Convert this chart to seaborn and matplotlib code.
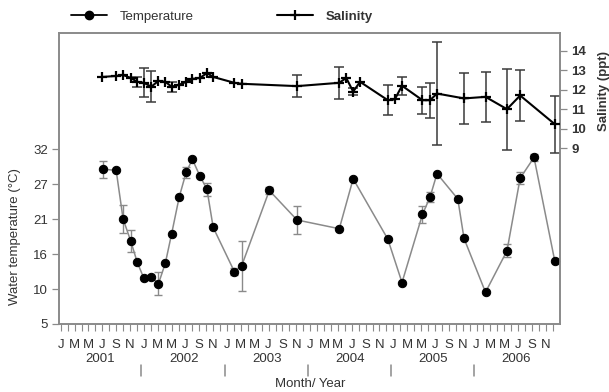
import numpy as np
import pandas as pd
import matplotlib
matplotlib.use("Agg")
import matplotlib.pyplot as plt
from matplotlib.lines import Line2D
import matplotlib.transforms as mtransforms
import seaborn as sns

# ---- data (x = months since Jan 2001) ----
temp_month = [6.06, 8.0, 9.0, 10.1, 11.05, 12.0, 13.07, 14.1, 15.1, 16.0, 17.1, 18.1,
              19.0, 20.1, 21.1, 22.0, 25.05, 26.1, 30.1, 34.1, 40.2, 42.2, 47.2, 49.25,
              52.2, 53.3, 54.3, 57.3, 58.2, 61.3, 64.4, 66.3, 68.3, 71.3]
temp_value = [28.9, 28.7, 21.2, 17.8, 14.5, 12.05, 12.3, 11.2, 14.4, 18.9, 24.6, 28.4,
              30.4, 27.8, 25.8, 19.9, 13.1, 13.95, 25.6, 21.05, 19.7, 27.4, 18.1, 11.4,
              21.9, 24.6, 28.2, 24.3, 18.2, 9.9, 16.3, 27.5, 30.7, 14.7]
temp_err = [1.3, 0, 2.2, 1.7, 0, 0, 0, 1.8, 0, 0, 0, 0.8,
            0, 0, 1.0, 0, 0.6, 3.9, 0.5, 2.2, 0, 0, 0, 0,
            1.3, 0.8, 0, 0, 0, 0, 1.0, 0.9, 0.5, 0]

sal_month = [6.0, 8.0, 9.0, 10.1, 11.05, 12.0, 13.07, 14.1, 15.1, 16.0, 17.1, 18.1,
             19.0, 20.1, 21.1, 22.0, 25.05, 26.1, 34.1, 40.2, 41.2, 42.2, 43.2, 47.2,
             48.2, 49.25, 52.2, 53.3, 54.3, 58.2, 61.3, 64.4, 66.3, 71.3]
sal_value = [12.65, 12.7, 12.75, 12.6, 12.4, 12.35, 12.15, 12.45, 12.4, 12.15, 12.25, 12.4,
             12.55, 12.6, 12.85, 12.65, 12.35, 12.3, 12.18, 12.35, 12.6, 11.9, 12.4, 11.46,
             11.5, 12.2, 11.46, 11.46, 11.8, 11.55, 11.63, 11.0, 11.7, 10.23]
sal_err = [0, 0, 0, 0, 0.25, 0.75, 0.8, 0, 0, 0.25, 0, 0,
           0, 0, 0, 0, 0, 0, 0.55, 0.82, 0, 0.2, 0, 0.77,
           0, 0.45, 0.7, 0.9, 2.65, 1.3, 1.28, 2.08, 1.3, 1.45]

years = ["2001", "2002", "2003", "2004", "2005", "2006"]
month_letters = ["J", "", "M", "", "M", "", "J", "", "S", "", "N", ""]
temp_ticks = [5, 10.4, 15.8, 21.2, 26.6, 32]
temp_tick_labels = ["5", "10", "16", "21", "27", "32"]
sal_ticks = [9, 10, 11, 12, 13, 14]

# ---- style ----
sns.set_style("white")
plt.rcParams["font.family"] = ["Liberation Sans", "DejaVu Sans"]
grey = "#8a8a8a"
txt = "#333333"

fig = plt.figure(figsize=(6.09, 3.92), dpi=100)
ax = fig.add_axes([59/609, 1-324/392, (560-59)/609, (324-33)/392])
ax2 = ax.twinx()

tdf = pd.DataFrame({"month": temp_month, "temp": temp_value})
sdf = pd.DataFrame({"month": sal_month, "sal": sal_value})

# temperature
te = np.array(temp_err); tm = np.array(temp_month); tv = np.array(temp_value)
mask = te > 0
ax.errorbar(tm[mask], tv[mask], yerr=te[mask], fmt="none", ecolor=grey,
            elinewidth=1, capsize=3, capthick=1, zorder=2)
sns.lineplot(data=tdf, x="month", y="temp", ax=ax, color=grey, lw=1.1,
             estimator=None, sort=False, marker="o", markersize=6,
             markerfacecolor="black", markeredgecolor="black", zorder=3)

# salinity
se = np.array(sal_err); sm = np.array(sal_month); sv = np.array(sal_value)
mask2 = se > 0
ax2.errorbar(sm[mask2], sv[mask2], yerr=se[mask2], fmt="none", ecolor="#3a3a3a",
             elinewidth=1.1, capsize=3.5, capthick=1.1, zorder=2)
sns.lineplot(data=sdf, x="month", y="sal", ax=ax2, color="black", lw=1.5,
             estimator=None, sort=False, marker="+", markersize=7,
             markeredgewidth=1.6, markeredgecolor="black", zorder=3)

# axes limits
ax.set_xlim(-0.25, 72.05)
ax.set_ylim(5, 49.9)
ax2.set_ylim(0, 14.9)

for a in (ax, ax2):
    for s in a.spines.values():
        s.set_color(grey)
        s.set_linewidth(1.2)

# x ticks
ax.set_xticks(np.arange(72))
ax.set_xticklabels(month_letters * len(years), fontsize=9.5, color=txt)
ax.tick_params(axis="x", which="both", bottom=True, direction="out", length=5,
               width=0.8, color=grey, pad=6)
ax.set_xlabel("")
# left y
ax.set_yticks(temp_ticks)
ax.set_yticklabels(temp_tick_labels, fontsize=9.5, color=txt)
ax.tick_params(axis="y", left=True, direction="out", length=5, width=0.9, color=grey, pad=3)
ax.set_ylabel("Water temperature (\u00b0C)", fontsize=9.5, color=txt)
ax.yaxis.set_label_coords(-0.075, 0.30)
# right y
ax2.set_yticks(sal_ticks)
ax2.set_yticklabels([str(v) for v in sal_ticks], fontsize=9.5, color=txt, fontweight="bold")
ax2.tick_params(axis="y", right=True, direction="out", length=5, width=0.9, color=grey, pad=3)
ax2.set_ylabel("Salinity (ppt)", fontsize=9.5, color=txt, fontweight="bold")
ax2.yaxis.set_label_coords(1.075, 0.80)
ax2.set_xlabel("")

# year labels & separators
trans = mtransforms.blended_transform_factory(ax.transData, ax.transAxes)
for i, y in enumerate(years):
    ax.text(5.75 + 12*i, -35/291, y, transform=trans, ha="center", va="center",
            fontsize=9.5, color=txt)
    if i > 0:
        ax.plot([12*i - 0.35, 12*i - 0.35], [-41/291, -52/291], transform=trans,
                color=grey, lw=1.1, clip_on=False)
fig.text(310/609, 1-384/392, "Month/ Year", ha="center", va="center",
         fontsize=9.5, color=txt)

# legend
h1 = Line2D([], [], color="black", lw=1.3, marker="o", markersize=6,
            markerfacecolor="black")
h2 = Line2D([], [], color="black", lw=1.5, marker="+", markersize=7,
            markeredgewidth=1.6)
leg = fig.legend([h1, h2], ["Temperature", "Salinity"], loc="center",
                 bbox_to_anchor=(222/609, 1-17/392), ncol=2, frameon=False,
                 fontsize=9.5, handlelength=2.7, columnspacing=6.3, handletextpad=1.0)
for t in leg.get_texts():
    t.set_color(txt)
leg.get_texts()[1].set_fontweight("bold")

fig.savefig("out.png", dpi=100)
